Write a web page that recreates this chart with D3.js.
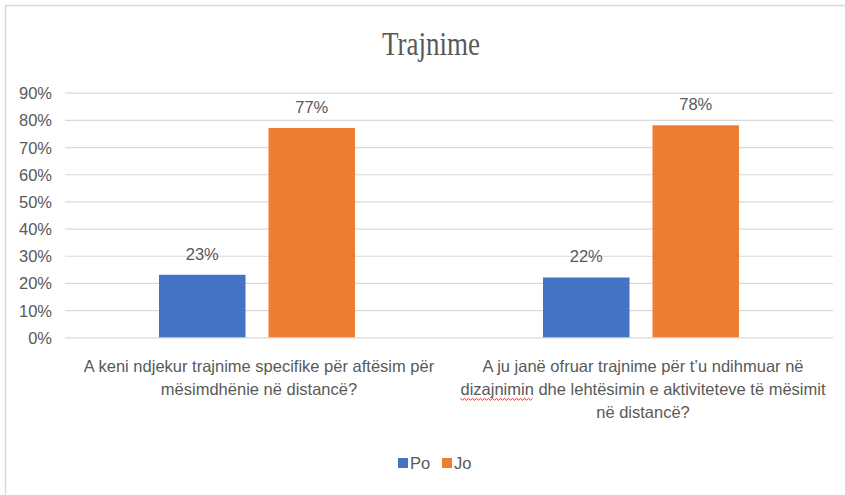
<!DOCTYPE html>
<html>
<head>
<meta charset="utf-8">
<script src="https://cdn.jsdelivr.net/npm/d3@7"></script>
<style>
  html, body { margin: 0; padding: 0; background: #fff; }
  svg { display: block; }
</style>
</head>
<body>
<svg id="chart" width="845" height="495"></svg>
<script>
const title = "Trajnime";
const categories = [
  ["A keni ndjekur trajnime specifike për aftësim për", "mësimdhënie në distancë?"],
  ["A ju janë ofruar trajnime për t’u ndihmuar në", "dizajnimin dhe lehtësimin e aktiviteteve të mësimit", "në distancë?"]
];
const seriesNames = ["Po", "Jo"];
const poValues = [0.23, 0.22];
const joValues = [0.77, 0.78];
const yTicks = [0, 0.1, 0.2, 0.3, 0.4, 0.5, 0.6, 0.7, 0.8, 0.9];
const colors = ["#4472C4", "#ED7D31"];

const W = 845, H = 495;
const svg = d3.select("#chart");
const txtColor = "#595959";
const font = "'Liberation Sans', Arial, sans-serif";

// frame
svg.append("line").attr("x1", 5).attr("x2", W).attr("y1", 5.5).attr("y2", 5.5)
  .attr("stroke", "#d9d9d9").attr("stroke-width", 1.5);
svg.append("line").attr("x1", 5.5).attr("x2", 5.5).attr("y1", 5).attr("y2", H)
  .attr("stroke", "#d9d9d9").attr("stroke-width", 1.5);

const plot = { left: 65, right: 833, top: 92.7, bottom: 337.3 };

const y = d3.scaleLinear().domain([0, 0.9]).range([plot.bottom, plot.top]);
const x0 = d3.scaleBand().domain(d3.range(categories.length)).range([plot.left, plot.right]).padding(0);
const groupW = 196;
const x1 = d3.scaleBand().domain(seriesNames).range([0, groupW]).paddingInner(0.21);

// title
svg.append("text").attr("x", 431).attr("y", 55)
  .attr("text-anchor", "middle")
  .attr("font-family", "'Liberation Serif', 'DejaVu Serif', serif")
  .attr("font-size", 33).attr("fill", txtColor)
  .attr("textLength", 98).attr("lengthAdjust", "spacingAndGlyphs")
  .text(title);

// gridlines + y axis
const yAxis = d3.axisLeft(y).tickValues(yTicks).tickFormat(d3.format(".0%")).tickSize(-(plot.right - plot.left)).tickPadding(13);
const gy = svg.append("g").attr("transform", `translate(${plot.left},0)`).call(yAxis);
gy.select(".domain").remove();
gy.selectAll(".tick line").attr("stroke", "#d9d9d9").attr("stroke-width", 1.2);
gy.selectAll(".tick text").attr("fill", txtColor).attr("font-family", font).attr("font-size", 16.5)
  .attr("dy", "0.36em");

// bars
const data = [];
categories.forEach((c, i) => {
  data.push({ cat: i, s: seriesNames[0], v: poValues[i], color: colors[0] });
  data.push({ cat: i, s: seriesNames[1], v: joValues[i], color: colors[1] });
});
const offset = (x0.bandwidth() - groupW) / 2;
svg.append("g").selectAll("rect").data(data).enter().append("rect")
  .attr("x", d => x0(d.cat) + offset + x1(d.s))
  .attr("y", d => y(d.v))
  .attr("width", x1.bandwidth())
  .attr("height", d => y(0) - y(d.v))
  .attr("fill", d => d.color);

// data labels
svg.append("g").selectAll("text").data(data).enter().append("text")
  .attr("x", d => x0(d.cat) + offset + x1(d.s) + x1.bandwidth() / 2)
  .attr("y", d => y(d.v) - 21)
  .attr("dy", "0.36em")
  .attr("text-anchor", "middle")
  .attr("font-family", font).attr("font-size", 16.5).attr("fill", txtColor)
  .text(d => d3.format(".0%")(d.v));

// category labels
const catG = svg.append("g");
categories.forEach((lines, i) => {
  const cx = x0(i) + x0.bandwidth() / 2 + 2;
  lines.forEach((ln, j) => {
    const ly = 366 + j * 23;
    const t = catG.append("text")
      .attr("x", cx).attr("y", ly).attr("dy", "0.36em")
      .attr("text-anchor", "middle")
      .attr("font-family", font).attr("font-size", 16.5).attr("fill", txtColor)
      .text(ln);
    const w = t.node().getComputedTextLength();
    // spell-check squiggle under "dizajnimin"
    if (ln.startsWith("dizajnimin")) {
      const ww = t.node().getSubStringLength(0, 10);
      const sx = cx - w / 2;
      const ex = sx + ww;
      const yy = ly + 10;
      const pts = [];
      for (let px = sx, k = 0; px <= ex; px += 2, k++) pts.push([px, yy + (k % 2 ? 1.2 : -0.6)]);
      catG.append("path").attr("d", d3.line()(pts)).attr("fill", "none")
        .attr("stroke", "#e03030").attr("stroke-width", 1);
    }
  });
});

// legend
const lg = svg.append("g");
const legendX = [398, 442];
seriesNames.forEach((s, i) => {
  lg.append("rect").attr("x", legendX[i]).attr("y", 458).attr("width", 10).attr("height", 10).attr("fill", colors[i]);
  lg.append("text").attr("x", legendX[i] + 12).attr("y", 463).attr("dy", "0.36em")
    .attr("font-family", font).attr("font-size", 16.5).attr("fill", txtColor).text(s);
});
</script>
</body>
</html>
